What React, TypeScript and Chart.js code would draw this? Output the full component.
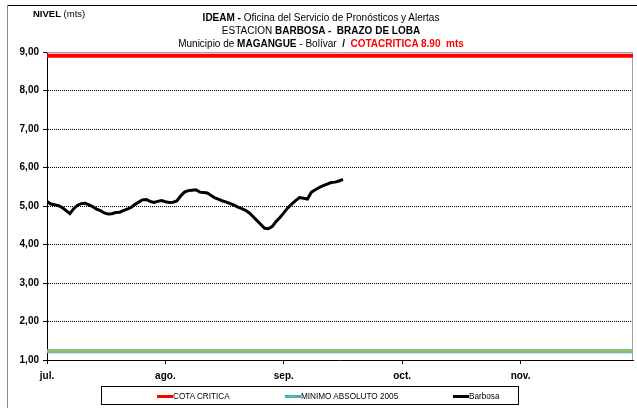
import React, { useEffect, useRef } from "react";
import { Chart, registerables } from "chart.js";

Chart.register(...registerables);

// ---- Data ----
const MONTH_LABELS = ["jul.", "ago.", "sep.", "oct.", "nov."];
const START_YEAR = 2010;
const START_MONTH = 6; // July (0-based)
const AXIS_MONTHS = 4.95; // Jul 1 .. end of Nov
const COTA_CRITICA = 8.9;
const MINIMO_ABSOLUTO_2005 = 1.23;
const Y_MIN = 1;
const Y_MAX = 9;
// Daily levels (m) of Barbosa station, starting on Jul 1
const BARBOSA = [
  5.12, 5.05, 5.03, 5.01, 4.96, 4.88, 4.8, 4.93, 5.02, 5.06,
  5.07, 5.03, 4.98, 4.92, 4.88, 4.82, 4.79, 4.8, 4.83, 4.84,
  4.88, 4.92, 4.96, 5.04, 5.1, 5.16, 5.17, 5.12, 5.09, 5.12,
  5.14, 5.11, 5.09, 5.1, 5.13, 5.26, 5.36, 5.4, 5.41, 5.42,
  5.36, 5.35, 5.34, 5.27, 5.21, 5.17, 5.13, 5.1, 5.06, 5.02,
  4.97, 4.93, 4.89, 4.82, 4.72, 4.62, 4.52, 4.42, 4.41, 4.47,
  4.6, 4.7, 4.82, 4.95, 5.05, 5.14, 5.22, 5.2, 5.18, 5.36,
  5.42, 5.48, 5.53, 5.57, 5.61, 5.62, 5.65, 5.69,
];

const FONT = "'Liberation Sans', Arial, sans-serif";
const AXIS_FONT = "'Liberation Sans', Arial, sans-serif";

// position of day i (from Jul 1) in month units (each month equal width)
function monthPos(i: number): number {
  const d = new Date(START_YEAR, START_MONTH, 1 + i);
  const m = d.getMonth() - START_MONTH;
  const dim = new Date(START_YEAR, d.getMonth() + 1, 0).getDate();
  return m + (d.getDate() - 1) / dim;
}

const frameLines = {
  id: "frameLines",
  beforeDatasetsDraw(chart: any) {
    const { ctx, chartArea: a } = chart;
    ctx.save();
    ctx.strokeStyle = "#a0a0a0";
    ctx.lineWidth = 1;
    ctx.beginPath();
    ctx.moveTo(a.left, a.top + 0.5);
    ctx.lineTo(a.right - 0.5, a.top + 0.5);
    ctx.lineTo(a.right - 0.5, a.bottom);
    ctx.stroke();
    ctx.restore();
  },
};

export default function App() {
  const ref = useRef<HTMLCanvasElement>(null);

  useEffect(() => {
    if (!ref.current) return;
    const barbosa = BARBOSA.map((v, i) => ({ x: monthPos(i), y: v }));
    const cota = [
      { x: 0, y: COTA_CRITICA },
      { x: AXIS_MONTHS, y: COTA_CRITICA },
    ];
    const minimo = [
      { x: 0, y: MINIMO_ABSOLUTO_2005 },
      { x: AXIS_MONTHS, y: MINIMO_ABSOLUTO_2005 },
    ];
    // lower index is drawn on top
    const chart = new Chart(ref.current, {
      type: "line",
      data: {
        datasets: [
          { label: "COTA CRITICA", data: cota, borderColor: "#ff0000", borderWidth: 4, pointRadius: 0 },
          { label: "min-inner", data: minimo, borderColor: "#9bbb59", borderWidth: 2.5, pointRadius: 0 },
          { label: "MINIMO ABSOLUTO 2005", data: minimo, borderColor: "#4bacc6", borderWidth: 4, pointRadius: 0 },
          { label: "Barbosa", data: barbosa, borderColor: "#000000", borderWidth: 3, pointRadius: 0, tension: 0 },
        ],
      },
      options: {
        animation: false,
        responsive: false,
        maintainAspectRatio: false,
        layout: { padding: { top: 52, right: 4, left: 0, bottom: 0 } },
        plugins: { legend: { display: false }, title: { display: false }, tooltip: { enabled: false } },
        scales: {
          x: {
            type: "linear",
            min: 0,
            max: AXIS_MONTHS,
            afterBuildTicks: (axis: any) => {
              axis.ticks = MONTH_LABELS.map((_, i) => ({ value: i }));
            },
            afterFit: (s: any) => {
              s.height = 48;
            },
            grid: { drawOnChartArea: false, drawTicks: true, tickLength: 4, tickColor: "#000" },
            border: { display: true, color: "#000", width: 1 },
            ticks: {
              autoSkip: false,
              maxRotation: 0,
              padding: 6,
              color: "#000",
              font: { family: AXIS_FONT, size: 10, weight: "bold" },
              callback: (v: any) => MONTH_LABELS[Math.round(Number(v))] ?? "",
            },
          },
          y: {
            min: Y_MIN,
            max: Y_MAX,
            afterFit: (s: any) => {
              s.width = 47;
            },
            grid: {
              color: (c: any) => (c.tick && (c.tick.value === Y_MIN || c.tick.value === Y_MAX) ? "rgba(0,0,0,0)" : "#000"),
              lineWidth: 1,
              drawTicks: true,
              tickLength: 4,
              tickColor: "#000",
            },
            border: { display: true, color: "#000", width: 1, dash: [1, 1] },
            ticks: {
              stepSize: 1,
              padding: 4,
              color: "#000",
              font: { family: AXIS_FONT, size: 10, weight: "bold" },
              callback: (v: any) => Number(v).toFixed(2).replace(".", ","),
            },
          },
        },
      },
      plugins: [frameLines],
    } as any);
    return () => chart.destroy();
  }, []);

  const legendItem = (left: number, color: string, text: string, inner?: string) => (
    <div style={{ position: "absolute", left, top: 0, height: 18, display: "flex", alignItems: "center" }}>
      <div style={{ width: 16, height: 3, background: color, position: "relative" }}>
        {inner ? <div style={{ position: "absolute", left: 6, top: 1, width: 4, height: 1, background: inner }} /> : null}
      </div>
      <span style={{ fontFamily: FONT, fontSize: 8.2, color: "#000", whiteSpace: "nowrap" }}>{text}</span>
    </div>
  );

  return (
    <div style={{ position: "fixed", left: 0, top: 0, width: 637, height: 408, background: "#fff", overflow: "hidden" }}>
      <canvas ref={ref} width={637} height={408} style={{ position: "absolute", left: 0, top: 0, width: 637, height: 408 }} />
      <div style={{ position: "absolute", left: 7, top: 5, width: 640, height: 1, background: "#000" }} />
      <div style={{ position: "absolute", left: 7, top: 5, width: 1, height: 410, background: "#8a8a8a" }} />
      <div style={{ position: "absolute", left: 33, top: 8, fontFamily: FONT, fontSize: 9.5, color: "#000", whiteSpace: "nowrap" }}>
        <b>NIVEL</b> (mts)
      </div>
      <div
        style={{
          position: "absolute",
          left: 0,
          width: 642,
          top: 11,
          textAlign: "center",
          fontFamily: FONT,
          fontSize: 10,
          lineHeight: "13px",
          color: "#000",
          whiteSpace: "nowrap",
        }}
      >
        <div>
          <b>IDEAM -</b> Oficina del Servicio de Pronósticos y Alertas
        </div>
        <div>
          ESTACION <b>BARBOSA -&nbsp; BRAZO DE LOBA</b>
        </div>
        <div>
          Municipio de <b>MAGANGUE</b> - Bolívar&nbsp; <b>/</b>&nbsp; <b style={{ color: "#ff0000" }}>COTACRITICA 8.90&nbsp; mts</b>
        </div>
      </div>
      <div style={{ position: "absolute", left: 101, top: 386, width: 418, height: 19, border: "1px solid #000", boxSizing: "border-box" }}>
        {legendItem(55, "#ff0000", "COTA CRITICA")}
        {legendItem(183, "#4bacc6", "MINIMO ABSOLUTO 2005", "#9bbb59")}
        {legendItem(351, "#000000", "Barbosa")}
      </div>
    </div>
  );
}
